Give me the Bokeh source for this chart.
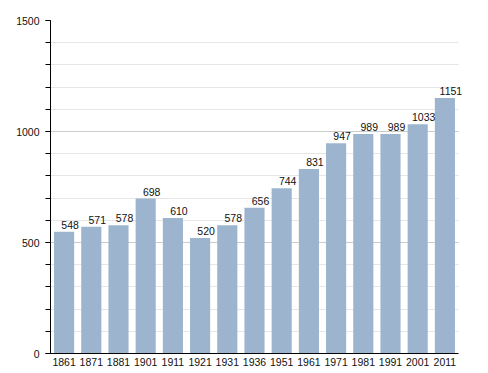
from bokeh.plotting import figure
from bokeh.models import ColumnDataSource, FixedTicker, Range1d, LabelSet
from bokeh.core.properties import value
from bokeh.embed import file_html
from bokeh.resources import INLINE

years = ["1861", "1871", "1881", "1901", "1911", "1921", "1931", "1936",
         "1951", "1961", "1971", "1981", "1991", "2001", "2011"]
population = [548, 571, 578, 698, 610, 520, 578, 656, 744, 831, 947, 989, 989, 1033, 1151]
y_ticks = [0, 500, 1000, 1500]

n = len(years)
xpos = [i + 0.5 for i in range(n)]
src = ColumnDataSource(dict(x=xpos, y=population, lab=[str(v) for v in population]))

p = figure(x_range=Range1d(0, n * 420 / 408), y_range=Range1d(0, 1500), width=470, height=370,
           output_backend="svg", toolbar_location=None,
           min_border_left=50, min_border_right=0, min_border_top=20, min_border_bottom=17)
p.outline_line_color = None

p.vbar(x="x", top="y", width=0.74, source=src, fill_color="#9db4cf", line_color=None)

labels = LabelSet(x="x", y="y", text="lab", source=src, text_align="center",
                  text_baseline="bottom", y_offset=3, x_offset=6, text_font_size="10.5px",
                  text_font=value("Liberation Sans"), text_color="#111111")
p.add_layout(labels)

p.yaxis.ticker = FixedTicker(ticks=y_ticks, minor_ticks=list(range(0, 1501, 100)))
p.yaxis.major_label_text_font = "Liberation Sans"
p.yaxis.major_label_text_font_size = "10.5px"
p.yaxis.major_label_text_color = "#111111"
p.yaxis.axis_line_color = "black"
p.yaxis.major_tick_line_color = "black"
p.yaxis.minor_tick_line_color = "black"
p.yaxis.major_tick_out = 5
p.yaxis.major_tick_in = 0
p.yaxis.minor_tick_out = 5
p.yaxis.minor_tick_in = 0
p.yaxis.major_label_standoff = 6

p.xaxis.ticker = FixedTicker(ticks=xpos, minor_ticks=[])
p.xaxis.major_label_overrides = {x: y for x, y in zip(xpos, years)}
p.xaxis.bounds = (0, n)
p.xaxis.major_label_text_font = "Liberation Sans"
p.xaxis.major_label_text_font_size = "10.5px"
p.xaxis.major_label_text_color = "#111111"
p.xaxis.axis_line_color = "black"
p.xaxis.major_tick_line_color = None
p.xaxis.minor_tick_line_color = None
p.xaxis.major_tick_out = 0
p.xaxis.major_tick_in = 0
p.xaxis.major_label_standoff = 4

p.xgrid.grid_line_color = None
p.ygrid.grid_line_color = "#cccccc"
p.ygrid.minor_grid_line_color = "#e6e6e6"
p.ygrid.cross_bounds = (0, n)

open("out.html", "w").write(file_html(p, INLINE))
